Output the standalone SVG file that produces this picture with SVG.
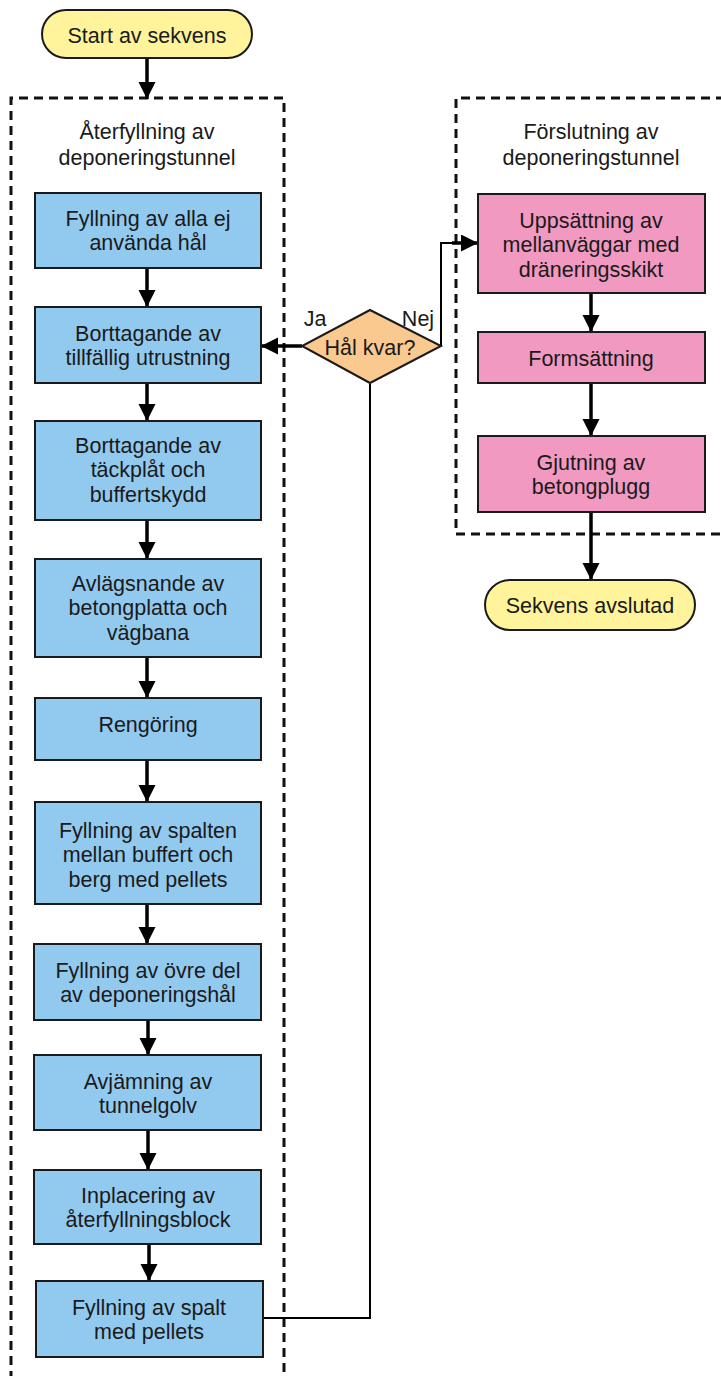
<svg xmlns="http://www.w3.org/2000/svg" width="721" height="1376" viewBox="0 0 721 1376">
<style>
text{font-family:"Liberation Sans",Arial,sans-serif;font-size:21.5px;fill:#1a1a1a;text-anchor:middle}
.blue{fill:#92C9EE;stroke:#1a1a1a;stroke-width:2}
.pink{fill:#F199C0;stroke:#1a1a1a;stroke-width:2}
.term{fill:#FFF39B;stroke:#1a1a1a;stroke-width:2}
.dec{fill:#F9C98F;stroke:#1a1a1a;stroke-width:2}
.dash{fill:none;stroke:#111;stroke-width:3;stroke-dasharray:9,6}
.arr{fill:none;stroke:#000;stroke-width:3.5;marker-end:url(#ah)}
.thin{fill:none;stroke:#000;stroke-width:2}
</style>
<defs>
<marker id="ah" markerUnits="userSpaceOnUse" markerWidth="18" markerHeight="18" refX="17" refY="8.5" orient="auto">
<path d="M0,0 L17,8.5 L0,17 z" fill="#000"/>
</marker>
</defs>
<g id="groups">
<path class="dash" d="M11,1380 V98 H284 V1380"/>
<text x="147" y="138.5">Återfyllning av</text>
<text x="147" y="164.5">deponeringstunnel</text>
<path class="dash" d="M725,98 H456 V534 H725"/>
<text x="591" y="138.5">Förslutning av</text>
<text x="591" y="164.5">deponeringstunnel</text>
</g>
<g id="connectors">
<line class="arr" x1="147" y1="58" x2="147" y2="99"/>
<line class="arr" x1="147" y1="268" x2="147" y2="307"/>
<line class="arr" x1="147" y1="383" x2="147" y2="421"/>
<line class="arr" x1="147" y1="520" x2="147" y2="559"/>
<line class="arr" x1="147" y1="657" x2="147" y2="698"/>
<line class="arr" x1="147" y1="760" x2="147" y2="802"/>
<line class="arr" x1="147" y1="904" x2="147" y2="944"/>
<line class="arr" x1="148" y1="1020" x2="148" y2="1055"/>
<line class="arr" x1="148" y1="1130" x2="148" y2="1170"/>
<line class="arr" x1="149" y1="1244" x2="149" y2="1281"/>
<path class="thin" d="M263,1318 H370 V384"/>
<line class="arr" x1="302" y1="346" x2="261" y2="346"/>
<path class="thin" d="M441,346 V243 H455"/>
<line class="arr" x1="452" y1="243" x2="478" y2="243"/>
<line class="arr" x1="591" y1="293" x2="591" y2="332"/>
<line class="arr" x1="591" y1="383" x2="591" y2="436"/>
<line class="arr" x1="591" y1="512" x2="591" y2="580"/>
<text x="315" y="325.5">Ja</text>
<text x="418" y="325.5">Nej</text>
</g>
<g id="start">
<rect class="term" x="42" y="10" width="210" height="48" rx="24"/>
<text x="147" y="42.5">Start av sekvens</text>
</g>
<g id="n1">
<rect class="blue" x="35" y="193" width="226" height="75"/>
<text x="148" y="225.5">Fyllning av alla ej</text>
<text x="148" y="250">använda hål</text>
</g>
<g id="n2">
<rect class="blue" x="35" y="307" width="226" height="76"/>
<text x="148" y="340.5">Borttagande av</text>
<text x="148" y="365">tillfällig utrustning</text>
</g>
<g id="n3">
<rect class="blue" x="35" y="421" width="226" height="99"/>
<text x="148" y="452.5">Borttagande av</text>
<text x="148" y="477">täckplåt och</text>
<text x="148" y="501.5">buffertskydd</text>
</g>
<g id="n4">
<rect class="blue" x="35" y="559" width="226" height="98"/>
<text x="148" y="590.5">Avlägsnande av</text>
<text x="148" y="615">betongplatta och</text>
<text x="148" y="639.5">vägbana</text>
</g>
<g id="n5">
<rect class="blue" x="35" y="698" width="226" height="62"/>
<text x="148" y="731.5">Rengöring</text>
</g>
<g id="n6">
<rect class="blue" x="35" y="802" width="226" height="102"/>
<text x="148" y="837.5">Fyllning av spalten</text>
<text x="148" y="862">mellan buffert och</text>
<text x="148" y="886.5">berg med pellets</text>
</g>
<g id="n7">
<rect class="blue" x="34" y="944" width="227" height="76"/>
<text x="148" y="977.5">Fyllning av övre del</text>
<text x="148" y="1002">av deponeringshål</text>
</g>
<g id="n8">
<rect class="blue" x="34" y="1055" width="227" height="75"/>
<text x="148" y="1088.5">Avjämning av</text>
<text x="148" y="1113">tunnelgolv</text>
</g>
<g id="n9">
<rect class="blue" x="34" y="1170" width="227" height="74"/>
<text x="148" y="1202.5">Inplacering av</text>
<text x="148" y="1227">återfyllningsblock</text>
</g>
<g id="n10">
<rect class="blue" x="36" y="1281" width="227" height="76"/>
<text x="149" y="1314.5">Fyllning av spalt</text>
<text x="149" y="1339">med pellets</text>
</g>
<g id="decision">
<polygon class="dec" points="370,310 441,346 370,383 302,346"/>
<text x="370" y="354.5">Hål kvar?</text>
</g>
<g id="p1">
<rect class="pink" x="478" y="194" width="227" height="99"/>
<text x="591" y="227.5">Uppsättning av</text>
<text x="591" y="252">mellanväggar med</text>
<text x="591" y="276.5">dräneringsskikt</text>
</g>
<g id="p2">
<rect class="pink" x="478" y="332" width="227" height="51"/>
<text x="591" y="365.5">Formsättning</text>
</g>
<g id="p3">
<rect class="pink" x="478" y="436" width="227" height="76"/>
<text x="591" y="469.5">Gjutning av</text>
<text x="591" y="494">betongplugg</text>
</g>
<g id="end">
<rect class="term" x="485" y="580" width="210" height="50" rx="25"/>
<text x="590" y="612.5">Sekvens avslutad</text>
</g>
</svg>
